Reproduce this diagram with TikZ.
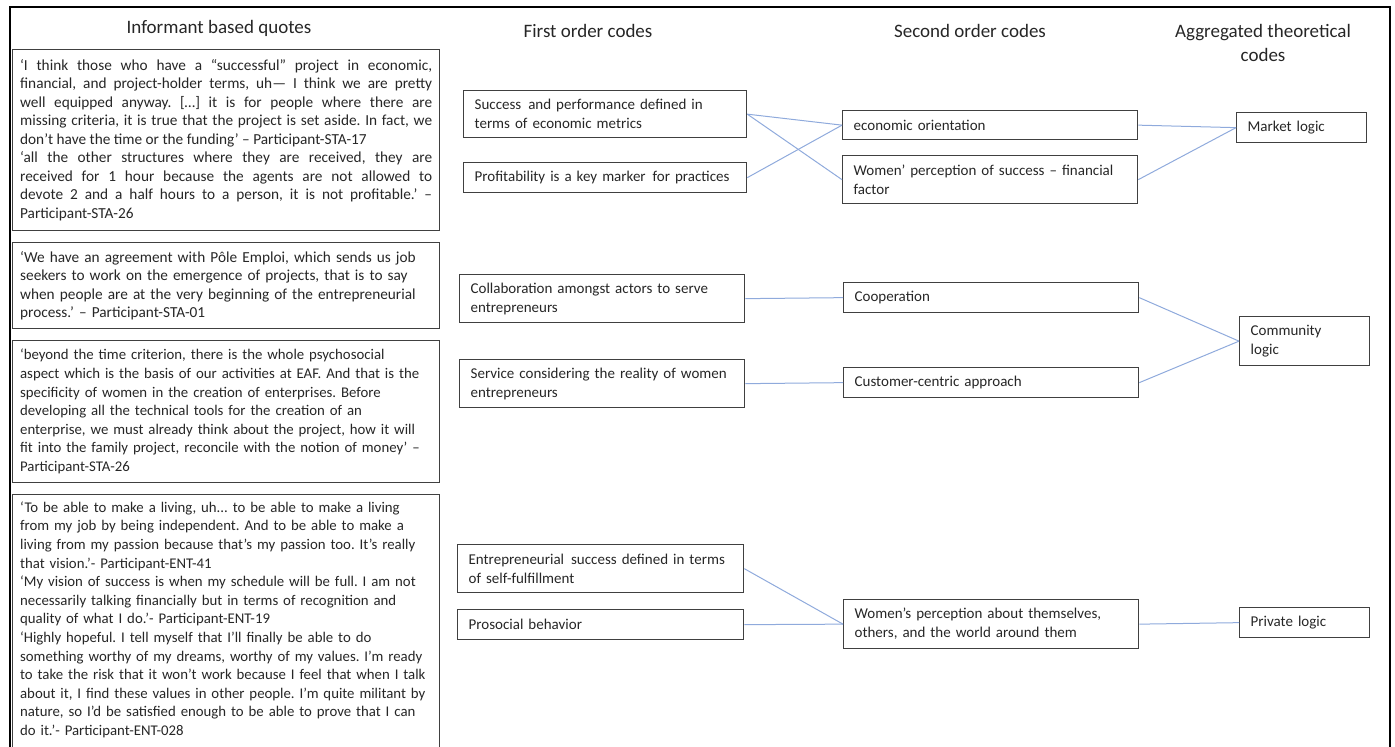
\documentclass[tikz,border=0pt]{standalone}
\usepackage{fontspec}
\setmainfont{Carlito}
\definecolor{conncol}{RGB}{143,170,220}
\definecolor{boxline}{RGB}{64,64,64}
\definecolor{txt}{RGB}{38,38,38}
\newcommand\lineof[1]{\mbox{#1}}
\begin{document}
\frenchspacing
\hyphenpenalty=10000
\exhyphenpenalty=10000
\begin{tikzpicture}[x=1pt,y=-1pt,
  every node/.style={text=txt},
  bodyfont/.style={font={\fontsize{15.3}{18.5}\selectfont\frenchspacing}},
  smallfont/.style={font={\fontsize{14.8}{18.6}\selectfont\frenchspacing}},
  codefont/.style={font={\fontsize{15}{19}\selectfont\frenchspacing}},
  headfont/.style={font={\fontsize{19}{24}\selectfont}},
  qbox/.style={draw=boxline, line width=1.3pt, anchor=north west, inner xsep=7.5pt, inner ysep=0pt, text width=412pt, bodyfont},
  cbox/.style={draw=boxline, line width=1.3pt, anchor=north west, inner xsep=11pt, inner ysep=0pt, align=left, codefont},
  head/.style={anchor=base, align=center, headfont},
  conn/.style={draw=conncol, line width=1pt}
]
\useasboundingbox (0,0) rectangle (1395,747);
% outer frame
\draw[line width=2.6pt, black] (10,760) -- (10,7) -- (1390,7) -- (1390,760);

% column titles
\node[head] (t0) at (219,33.5) {Informant based quotes};
\node[head] (t1) at (588,37.5) {First order codes};
\node[head] (t2) at (970,37.5) {Second order codes};
\node[head] (t3) at (1263,61.5) {Aggregated theoretical\\codes};

% quotes
\node[qbox, align=justify, minimum height=181pt] (q1) at (12,49) {%
‘I think those who have a “successful” project in economic,\linebreak
financial, and project-holder terms, uh— I think we are pretty\linebreak
well equipped anyway. […] it is for people where there are\linebreak
missing criteria, it is true that the project is set aside. In fact, we\linebreak
don’t have the time or the funding’ – Participant-STA-17\\
‘all the other structures where they are received, they are\linebreak
received for 1 hour because the agents are not allowed to\linebreak
devote 2 and a half hours to a person, it is not profitable.’ –\linebreak
Participant-STA-26};

\node[qbox, align=left, minimum height=86pt] (q2) at (12,242) {%
\lineof{‘We have an agreement with Pôle Emploi, which sends us job}\\
\lineof{seekers to work on the emergence of projects, that is to say}\\
\lineof{when people are at the very beginning of the entrepreneurial}\\
\lineof{process.’ – Participant-STA-01}};

\node[qbox, align=left, minimum height=142pt, smallfont] (q3) at (12,340) {%
\lineof{‘beyond the time criterion, there is the whole psychosocial}\\
\lineof{aspect which is the basis of our activities at EAF. And that is the}\\
\lineof{specificity of women in the creation of enterprises. Before}\\
\lineof{developing all the technical tools for the creation of an}\\
\lineof{enterprise, we must already think about the project, how it will}\\
\lineof{fit into the family project, reconcile with the notion of money’ –}\\
\lineof{Participant-STA-26}};

\node[qbox, align=left, inner ysep=7pt, smallfont] (q4) at (12,494) {%
\lineof{‘To be able to make a living, uh... to be able to make a living}\\
\lineof{from my job by being independent. And to be able to make a}\\
\lineof{living from my passion because that's my passion too. It's really}\\
\lineof{that vision.’- Participant-ENT-41}\\
\lineof{‘My vision of success is when my schedule will be full. I am not}\\
\lineof{necessarily talking financially but in terms of recognition and}\\
\lineof{quality of what I do.’- Participant-ENT-19}\\
\lineof{‘Highly hopeful. I tell myself that I'll finally be able to do}\\
\lineof{something worthy of my dreams, worthy of my values. I'm ready}\\
\lineof{to take the risk that it won't work because I feel that when I talk}\\
\lineof{about it, I find these values in other people. I'm quite militant by}\\
\lineof{nature, so I'd be satisfied enough to be able to prove that I can}\\
\lineof{do it.’- Participant-ENT-028}\\
\rule{0pt}{24pt}};

% first order codes
\node[cbox, text width=261pt, minimum height=47pt] (f1) at (463,90) {\lineof{Success\hspace{2pt} and performance defined in}\\\lineof{terms of economic metrics}};
\node[cbox, text width=261pt, minimum height=30pt] (f2) at (463,162) {\lineof{Profitability is a key marker\hspace{2pt} for practices}};
\node[cbox, text width=263pt, minimum height=48pt] (f3) at (459,274) {\lineof{Collaboration amongst actors to serve}\\\lineof{entrepreneurs}};
\node[cbox, text width=263pt, minimum height=48pt] (f4) at (459,359) {\lineof{Service considering the reality of women}\\\lineof{entrepreneurs}};
\node[cbox, text width=264pt, minimum height=48pt] (f5) at (457,544) {\lineof{Entrepreneurial\hspace{2pt} success defined in terms}\\\lineof{of self-fulfillment}};
\node[cbox, text width=264pt, minimum height=30pt] (f6) at (457,609) {\lineof{Prosocial behavior}};

% second order codes
\node[cbox, text width=273pt, minimum height=29pt] (s1) at (842,110) {\lineof{economic orientation}};
\node[cbox, text width=273pt, minimum height=48pt] (s2) at (842,155) {\lineof{Women’ perception of success – financial}\\\lineof{factor}};
\node[cbox, text width=273pt, minimum height=30pt] (s3) at (843,282) {\lineof{Cooperation}};
\node[cbox, text width=273pt, minimum height=30pt] (s4) at (843,367) {\lineof{Customer-centric approach}};
\node[cbox, text width=273pt, minimum height=49pt] (s5) at (843,599) {\lineof{Women’s perception about themselves,}\\\lineof{others, and the world around them}};

% aggregated codes
\node[cbox, text width=108pt, minimum height=30pt] (a1) at (1236,112) {\lineof{Market logic}};
\node[cbox, text width=108pt, minimum height=49pt] (a2) at (1239,316) {\lineof{Community}\\\lineof{logic}};
\node[cbox, text width=108pt, minimum height=30pt] (a3) at (1239,607) {\lineof{Private logic}};

% connectors
\draw[conn] (f1.east) -- (s1.west);
\draw[conn] (f1.east) -- (s2.west);
\draw[conn] (f2.east) -- (s1.west);
\draw[conn] (s1.east) -- (a1.west);
\draw[conn] (s2.east) -- (a1.west);
\draw[conn] (f3.east) -- (s3.west);
\draw[conn] (f4.east) -- (s4.west);
\draw[conn] (s3.east) -- (a2.west);
\draw[conn] (s4.east) -- (a2.west);
\draw[conn] (f5.east) -- (s5.west);
\draw[conn] (f6.east) -- (s5.west);
\draw[conn] (s5.east) -- (a3.west);
\end{tikzpicture}
\end{document}
